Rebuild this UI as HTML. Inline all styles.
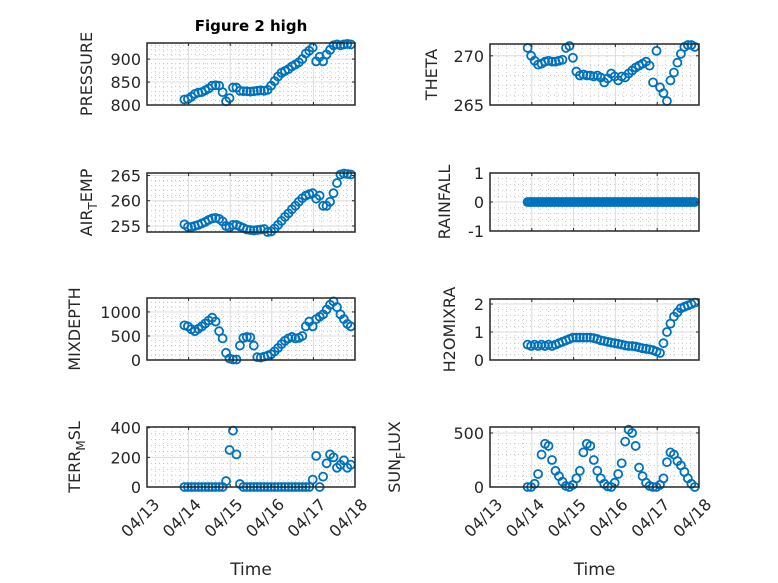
<!DOCTYPE html>
<html><head><meta charset="utf-8"><style>
html,body{margin:0;padding:0;background:#fff;}
svg{display:block;font-family:"DejaVu Sans","Liberation Sans",sans-serif;}
</style></head><body>
<svg id="fig" width="778" height="583" viewBox="0 0 778 583" xmlns="http://www.w3.org/2000/svg">
<text x="251" y="31" text-anchor="middle" font-size="15" font-weight="bold" fill="#000">Figure 2 high</text>
</svg>
<script>
// time: days in April, sampled every 2 hours
const startDay = 13.9, stepDay = 1/12;
const rainStep = 1/24;
const xTickLabels = ['04/13','04/14','04/15','04/16','04/17','04/18'];
const pressure = [812,813,818,824,827,828,832,836,842,843,842,828,808,815,838,838,831,830,830,829,830,831,832,831,833,842,852,862,870,874,878,884,888,893,900,912,918,925,895,905,895,910,920,930,932,930,932,933,932];
const theta = [270.8,270.0,269.5,269.1,269.2,269.4,269.5,269.4,269.4,269.5,269.6,270.8,271.0,269.8,268.4,268.0,268.1,268.0,268.0,267.9,268.0,267.8,267.3,267.7,268.2,267.9,267.5,267.9,267.8,268.2,268.5,268.8,269.0,269.2,269.4,269.0,267.3,270.5,266.8,266.2,265.4,267.5,268.3,269.3,270.2,270.9,271.1,271.1,270.9];
const airTemp = [255.3,254.8,254.8,255.0,255.2,255.5,255.8,256.2,256.5,256.6,256.4,255.9,255.0,254.7,255.2,255.2,254.9,254.6,254.3,254.2,254.1,254.2,254.3,254.4,253.8,253.9,254.5,255.2,256.0,256.8,257.5,258.3,259.0,259.8,260.5,261.0,261.3,261.5,260.4,261.0,259.0,259.0,259.8,261.5,263.5,265.2,265.4,265.3,265.2];
const rainfall = [0,0,0,0,0,0,0,0,0,0,0,0,0,0,0,0,0,0,0,0,0,0,0,0,0,0,0,0,0,0,0,0,0,0,0,0,0,0,0,0,0,0,0,0,0,0,0,0,0,0,0,0,0,0,0,0,0,0,0,0,0,0,0,0,0,0,0,0,0,0,0,0,0,0,0,0,0,0,0,0,0,0,0,0,0,0,0,0,0,0,0,0,0,0,0,0,0];
const mixDepth = [720,700,640,600,650,700,760,820,880,800,600,450,150,30,10,10,300,460,480,470,300,60,50,70,90,120,180,250,330,400,450,480,450,460,500,700,800,700,850,900,950,1050,1150,1220,1100,950,850,750,700];
const h2oMix = [0.55,0.5,0.55,0.5,0.55,0.5,0.55,0.5,0.55,0.6,0.65,0.7,0.75,0.8,0.8,0.8,0.8,0.8,0.8,0.78,0.75,0.7,0.68,0.65,0.62,0.6,0.58,0.55,0.52,0.5,0.5,0.48,0.45,0.42,0.4,0.38,0.35,0.3,0.25,0.6,1.0,1.3,1.55,1.7,1.85,1.9,1.95,2.0,2.05];
const terrMsl = [0,0,0,0,0,0,0,0,0,0,0,0,40,250,380,220,20,0,0,0,0,0,0,0,0,0,0,0,0,0,0,0,0,0,0,0,0,50,210,0,70,160,220,200,130,150,180,130,150];
const sunFlux = [0,0,30,120,300,400,380,250,150,100,50,10,0,20,80,150,320,400,380,250,150,80,30,5,0,40,120,220,420,530,500,380,180,100,40,10,0,0,20,80,230,320,300,240,200,140,80,30,0];
const yTicksPressure = [800,850,900];
const yTicksTheta = [265,270];
const yTicksAir = [255,260,265];
const yTicksRain = [-1,0,1];
const yTicksMix = [0,500,1000];
const yTicksH2o = [0,1,2];
const yTicksTerr = [0,200,400];
const yTicksSun = [0,500];

const NS='http://www.w3.org/2000/svg';
const svg=document.getElementById('fig');
function mk(tag,attrs,parent){const e=document.createElementNS(NS,tag);for(const k in attrs)e.setAttribute(k,attrs[k]);(parent||svg).appendChild(e);return e;}

const panels=[
 {name:'pressure',x0:147,x1:355,y0:43,y1:105,ymin:800,ymax:935,ticks:yTicksPressure,minor:10,data:pressure,step:stepDay,label:['PRESSURE'],lx:92,xt:false},
 {name:'theta',x0:490,x1:699,y0:44,y1:105,ymin:265,ymax:271.2,ticks:yTicksTheta,minor:1,data:theta,step:stepDay,label:['THETA'],lx:437,xt:false},
 {name:'air-temp',x0:147,x1:355,y0:173,y1:232,ymin:253.8,ymax:265.5,ticks:yTicksAir,minor:1,data:airTemp,step:stepDay,label:['AIR','T','EMP'],lx:92,xt:false},
 {name:'rainfall',x0:490,x1:699,y0:173,y1:231,ymin:-1,ymax:1,ticks:yTicksRain,minor:0.2,data:rainfall,step:rainStep,label:['RAINFALL'],lx:450,xt:false},
 {name:'mix-depth',x0:147,x1:355,y0:298,y1:360,ymin:0,ymax:1290,ticks:yTicksMix,minor:100,data:mixDepth,step:stepDay,label:['MIXDEPTH'],lx:80,xt:false},
 {name:'h2o-mix',x0:490,x1:699,y0:299,y1:360,ymin:0,ymax:2.18,ticks:yTicksH2o,minor:0.2,data:h2oMix,step:stepDay,label:['H2OMIXRA'],lx:455,xt:false},
 {name:'terr-msl',x0:147,x1:355,y0:427,y1:487,ymin:0,ymax:405,ticks:yTicksTerr,minor:40,data:terrMsl,step:stepDay,label:['TERR','M','SL'],lx:80,xt:true},
 {name:'sun-flux',x0:490,x1:699,y0:427,y1:487,ymin:0,ymax:555,ticks:yTicksSun,minor:100,data:sunFlux,step:stepDay,label:['SUN','F','LUX'],lx:400,xt:true}
];
const xmin=13,xmax=18;
panels.forEach(p=>{
 const g=mk('g',{});
 
 
 const X=v=>p.x0+(v-xmin)/(xmax-xmin)*(p.x1-p.x0);
 const Y=v=>p.y1-(v-p.ymin)/(p.ymax-p.ymin)*(p.y1-p.y0);
 mk('rect',{x:p.x0,y:p.y0,width:p.x1-p.x0,height:p.y1-p.y0,fill:'#fff'},g);
 for(let d=xmin;d<xmax-1e-6;d+=0.2){ if(Math.abs(d-Math.round(d))<1e-6) continue; mk('line',{x1:X(d),x2:X(d),y1:p.y0,y2:p.y1,stroke:'#bdbdbd','stroke-width':0.8,'stroke-dasharray':'1,3'},g);}
 const m0=Math.ceil(p.ymin/p.minor)*p.minor;
 for(let v=m0;v<=p.ymax;v+=p.minor){ const yy=Y(v); if(p.ticks.some(t=>Math.abs(t-v)<1e-6)) continue; mk('line',{x1:p.x0,x2:p.x1,y1:yy,y2:yy,stroke:'#bdbdbd','stroke-width':0.8,'stroke-dasharray':'1,3'},g);}
 for(let d=xmin+1;d<xmax;d++) mk('line',{x1:X(d),x2:X(d),y1:p.y0,y2:p.y1,stroke:'#dcdcdc','stroke-width':1},g);
 p.ticks.forEach(t=>{const yy=Y(t); if(yy>p.y0+1&&yy<p.y1-1) mk('line',{x1:p.x0,x2:p.x1,y1:yy,y2:yy,stroke:'#dcdcdc','stroke-width':1},g);});
 p.data.forEach((v,i)=>{
  const c=mk('circle',{cx:X(startDay+i*p.step),cy:Y(v),r:4,fill:'none',stroke:'#0072BD','stroke-width':1.8},g);
  
  
 });
 mk('rect',{x:p.x0,y:p.y0,width:p.x1-p.x0,height:p.y1-p.y0,fill:'none',stroke:'#262626','stroke-width':1.5},g);
 for(let d=xmin+1;d<xmax;d++){mk('line',{x1:X(d),x2:X(d),y1:p.y1,y2:p.y1-3,stroke:'#262626'},g);mk('line',{x1:X(d),x2:X(d),y1:p.y0,y2:p.y0+3,stroke:'#262626'},g);}
 p.ticks.forEach(t=>{
  const yy=Y(t);
  mk('line',{x1:p.x0,x2:p.x0+3,y1:yy,y2:yy,stroke:'#262626'},g);
  mk('line',{x1:p.x1,x2:p.x1-3,y1:yy,y2:yy,stroke:'#262626'},g);
  const tx=mk('text',{x:p.x0-6,y:yy+6,'text-anchor':'end','font-size':16,fill:'#262626'},g);
  tx.textContent=String(t);
  
  
 });
 const cy=(p.y0+p.y1)/2;
 const lab=mk('text',{x:p.lx,y:cy,'text-anchor':'middle','font-size':16,fill:'#262626',transform:`rotate(-90 ${p.lx} ${cy})`},g);
 
 
 if(p.label.length===1){lab.textContent=p.label[0];}
 else{
  const a=mk('tspan',{},lab);a.textContent=p.label[0];
  const b=mk('tspan',{dy:5,'font-size':12},lab);b.textContent=p.label[1];
  const c=mk('tspan',{dy:-5},lab);c.textContent=p.label[2];
 }
 if(p.xt){
  xTickLabels.forEach((s,k)=>{
   const xx=X(xmin+k)+5, yy=p.y1+10;
   const t=mk('text',{x:xx,y:yy,'text-anchor':'end','font-size':16,fill:'#262626',transform:`rotate(-45 ${xx} ${yy})`,dy:'0.75em'},g);
   t.textContent=s;
   
   
  });
  const xl=mk('text',{x:(p.x0+p.x1)/2,y:575,'text-anchor':'middle','font-size':17,fill:'#262626'},g);
  xl.textContent='Time';
  
  
 }
});
</script>
</body></html>
